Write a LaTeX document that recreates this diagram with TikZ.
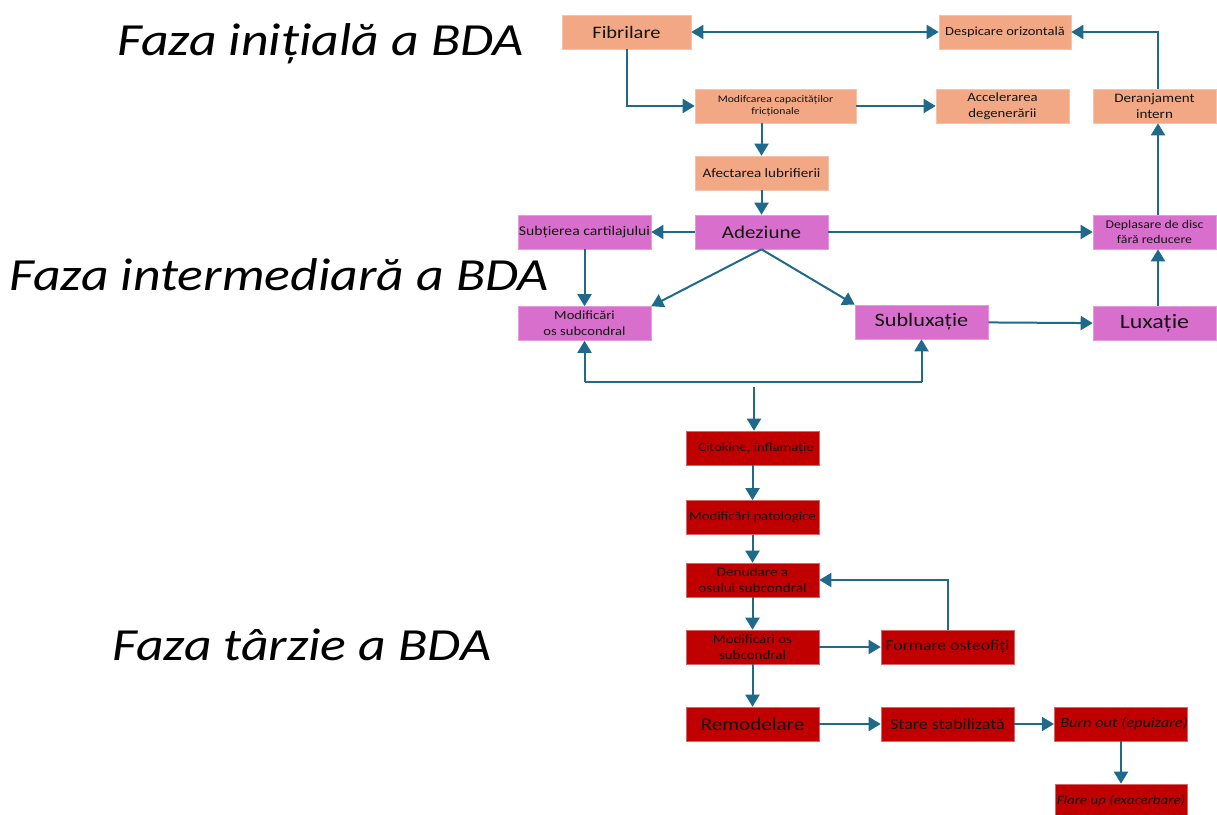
\documentclass[tikz,border=0pt]{standalone}
\usepackage{fontspec}
\setmainfont{Carlito}[FakeStretch=1.17]
\usetikzlibrary{arrows.meta}
\definecolor{flowline}{HTML}{1F6A8A}
\definecolor{peachfill}{HTML}{F2A884}
\definecolor{orchidfill}{HTML}{D96FCC}
\definecolor{crimsonfill}{HTML}{C00000}
\definecolor{inktext}{HTML}{141414}
\newcommand{\fsz}[1]{\fontsize{#1}{1.25\dimexpr#1pt\relax}\selectfont}
\begin{document}
\begin{tikzpicture}[x=1pt,y=-1pt,
  box/.style={rectangle, minimum width=133pt, minimum height=34pt, inner sep=0pt,
              align=center, text=inktext, line width=0.6pt},
  peach/.style={box, fill=peachfill, draw=peachfill!70!white},
  orchid/.style={box, fill=orchidfill, draw=orchidfill!70!white},
  crimson/.style={box, fill=crimsonfill, draw=crimsonfill!60!white},
  link/.style={draw=flowline, line width=2pt, -{Triangle[length=12pt,width=14pt]}},
  phase/.style={anchor=base west, font=\fontsize{46}{50}\selectfont\itshape, text=black, inner sep=0pt}
]
\useasboundingbox[fill=white] (0,0) rectangle (1217,814);

% phase headings
\node[phase] (ph1) at (117,55) {Faza inițială a BDA};
\node[phase] (ph2) at (9,290) {Faza intermediară a BDA};
\node[phase] (ph3) at (112,660) {Faza târzie a BDA};

% initial phase
\node[peach, minimum width=129pt, font=\fsz{17.5}] (fib) at (626.5,32) {Fibrilare};
\node[peach, minimum width=132pt, font=\fsz{12.4}] (desp) at (1005,32) {Despicare orizontală};
\node[peach, minimum width=161pt, font=\fsz{10}] (modf) at (775.5,106) {Modifcarea capacităților\\fricționale};
\node[peach, minimum width=133pt, font=\fsz{12.6}] (acc) at (1002.5,106) {Accelerarea\\degenerării};
\node[peach, minimum width=123pt, font=\fsz{12.9}] (der) at (1154.5,106) {Deranjament\\intern};
\node[peach, font=\fsz{12.9}] (afe) at (761.5,173) {Afectarea lubrifierii};

% intermediate phase
\node[orchid, font=\fsz{18}] (ade) at (761.5,232) {Adeziune};
\node[orchid, font=\fsz{13.4}] (sub) at (584.5,232) {Subțierea cartilajului};
\node[orchid, minimum width=123pt, font=\fsz{11.8}] (depl) at (1154.5,232) {Deplasare de disc\\fără reducere};
\node[orchid, font=\fsz{12.5}] (modm) at (584.5,323.5) {Modificări\\os subcondral};
\node[orchid, font=\fsz{19}] (subl) at (921.5,322) {\raisebox{-2pt}{Subluxație}};
\node[orchid, minimum width=123pt, font=\fsz{20.5}] (lux) at (1154.5,323.5) {\raisebox{-2pt}{Luxație}};

% late phase
\node[crimson, font=\fsz{12.5}] (cit) at (752.5,448) {\hspace*{7pt}Citokine, inflamație};
\node[crimson, font=\fsz{12.6}] (pat) at (752.5,517.5) {Modificări patologice};
\node[crimson, font=\fsz{13}] (den) at (752.5,580) {Denudare a\\osului subcondral};
\node[crimson, font=\fsz{12.8}] (modl) at (752.5,647) {Modificări os\\subcondral};
\node[crimson, font=\fsz{15.1}] (ost) at (947.5,647) {Formare osteofiți};
\node[crimson, font=\fsz{18}] (rem) at (752.5,724) {Remodelare};
\node[crimson, font=\fsz{15.4}] (sta) at (947.5,724) {Stare stabilizată};
\node[crimson, minimum width=132pt, font=\fsz{14}\itshape] (burn) at (1121,724) {\hspace*{6pt}Burn out (epuizare)};
\node[crimson, minimum width=132pt, font=\fsz{12.8}\itshape] (flare) at (1121,801) {Flare up (exacerbare)};

% junction points
\coordinate (jl) at (584.5,382);
\coordinate (jr) at (921.5,382);
\coordinate (jm) at (754,387);

% connectors: initial phase
\draw[link, {Triangle[length=12pt,width=14pt]}-{Triangle[length=12pt,width=14pt]}] (fib) -- (desp);
\draw[link] (fib.south) |- (modf.west);
\draw[link] (modf) -- (acc);
\draw[link] (modf.south -| afe.north) -- (afe.north);
\draw[link] (der.north -| 1158,0) |- (desp.east);

% connectors: intermediate phase
\draw[link] (afe) -- (ade);
\draw[link] (ade) -- (sub);
\draw[link] (ade) -- (depl);
\draw[link] (depl.north -| 1158,0) -- (der.south -| 1158,0);
\draw[link] (lux.north -| 1158,0) -- (depl.south -| 1158,0);
\draw[link] (subl) -- (lux);
\draw[link] (ade.south) -- (modm.north east);
\draw[link] (ade.south) -- (subl.north west);
\draw[link] (sub) -- (modm);
\draw[link] (jl) -- (modm.south);
\draw[link] (jr) -- (subl.south);
\draw[draw=flowline, line width=2pt] (jl) -- (jr);
\draw[link] (jm) -- (cit.north -| jm);

% connectors: late phase
\draw[link] (cit) -- (pat);
\draw[link] (pat) -- (den);
\draw[link] (den) -- (modl);
\draw[link] (modl) -- (rem);
\draw[link] (modl) -- (ost);
\draw[link] (ost.north) |- (den.east);
\draw[link] (rem) -- (sta);
\draw[link] (sta) -- (burn);
\draw[link] (burn) -- (flare);
\end{tikzpicture}
\end{document}
